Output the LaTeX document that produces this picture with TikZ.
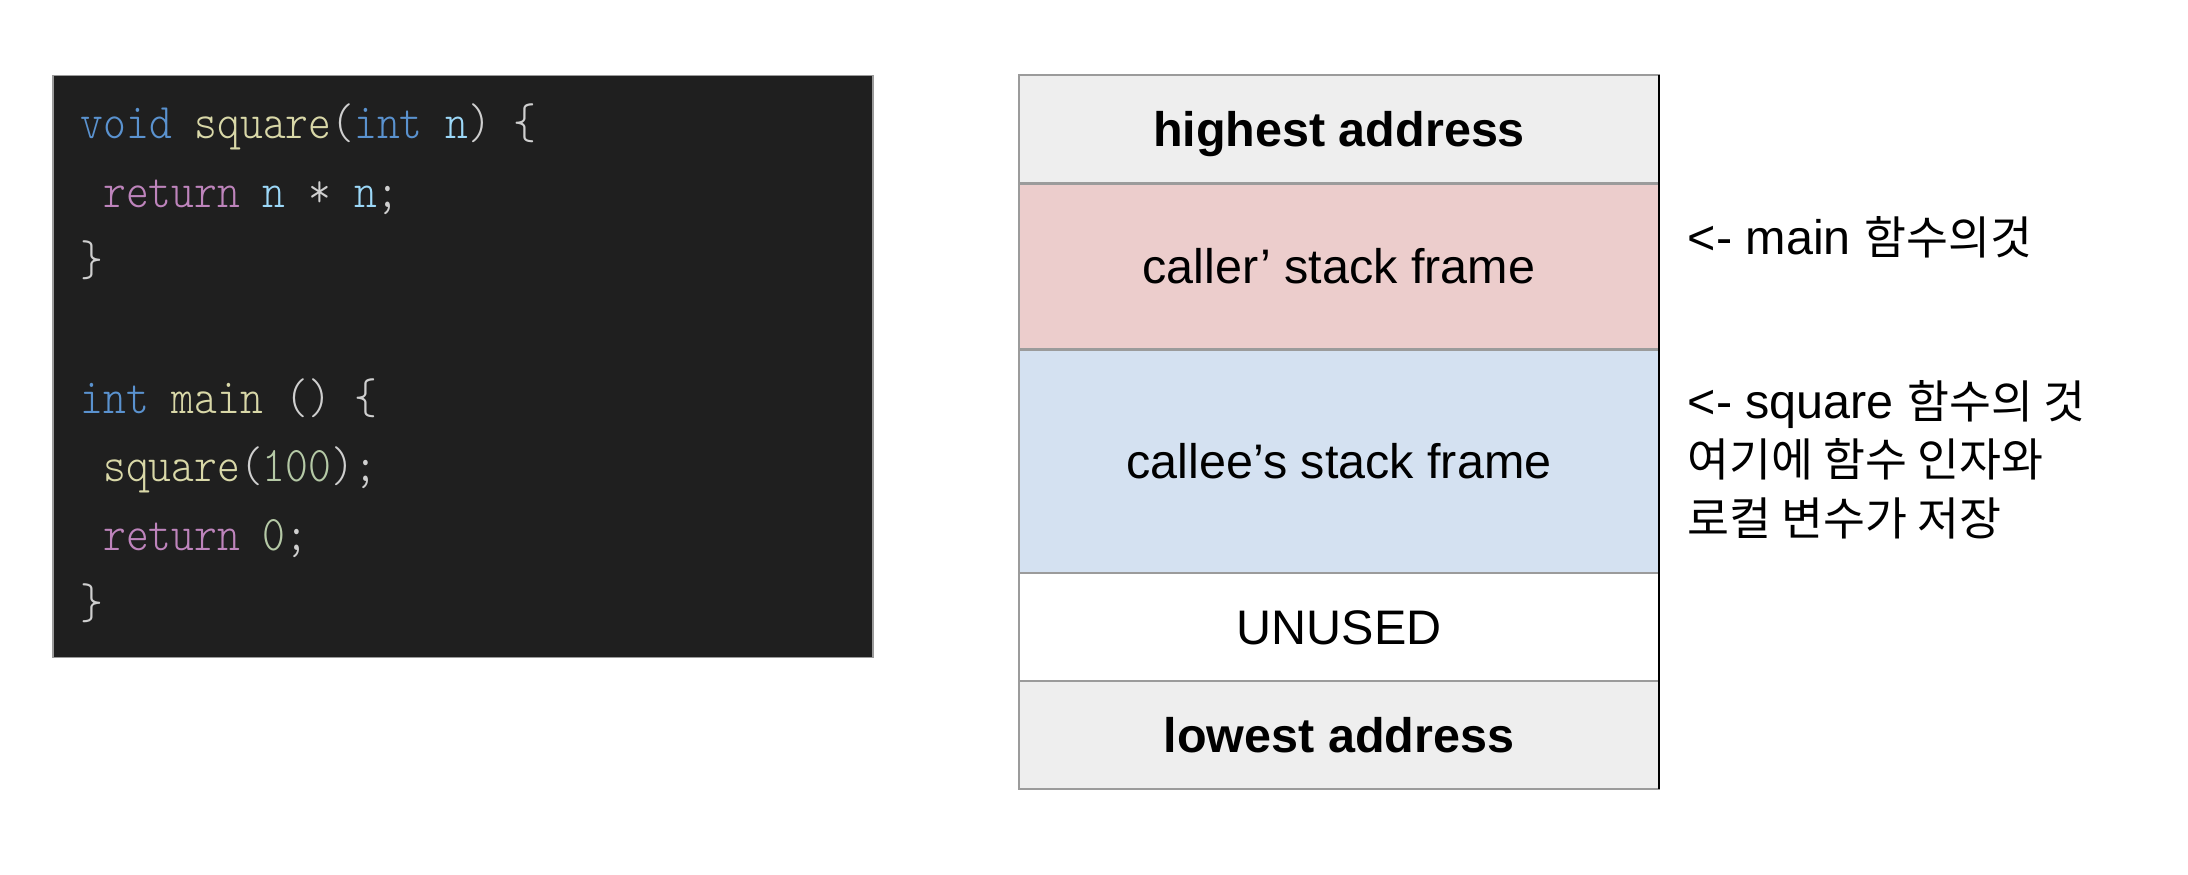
\documentclass[tikz,border=0pt]{standalone}
\usepackage{fontspec}
\usepackage{xcolor}
\usetikzlibrary{positioning}
\setmainfont{Liberation Sans}
\newfontfamily\kr[Scale=0.94]{Noto Sans CJK KR}
\newfontfamily\codett[FakeStretch=0.87]{lmmonolt10-regular.otf}

\definecolor{codebg}{HTML}{1F1F1F}
\definecolor{kwblue}{HTML}{5A92CF}
\definecolor{fnyellow}{HTML}{D9D8A8}
\definecolor{varblue}{HTML}{9CD8F8}
\definecolor{retpurple}{HTML}{BE84BC}
\definecolor{numgreen}{HTML}{B5C9A6}
\definecolor{punct}{HTML}{CFCFCF}
\definecolor{cellgray}{HTML}{EEEEEE}
\definecolor{callerpink}{HTML}{ECCDCC}
\definecolor{calleeblue}{HTML}{D4E1F1}
\definecolor{edgegray}{HTML}{9B9B9B}

\newcommand{\ckw}[1]{\textcolor{kwblue}{#1}}
\newcommand{\cfn}[1]{\textcolor{fnyellow}{#1}}
\newcommand{\cvar}[1]{\textcolor{varblue}{#1}}
\newcommand{\cret}[1]{\textcolor{retpurple}{#1}}
\newcommand{\cnum}[1]{\textcolor{numgreen}{#1}}
\newcommand{\cpn}[1]{\textcolor{punct}{#1}}

\tikzset{
    codeline/.style={anchor=base west, inner sep=0pt, font=\codett\fontsize{14.2pt}{17pt}\selectfont},
    cell/.style={draw=edgegray, line width=0.6pt, minimum width=6.4cm, outer sep=0pt,
        text height=12pt, text depth=2.2pt, font=\fontsize{13.8pt}{16.6pt}\selectfont},
    note/.style={anchor=base west, inner sep=0pt, font=\fontsize{13.8pt}{16.6pt}\selectfont}
}

\begin{document}
\begin{tikzpicture}
        \useasboundingbox (0, 0) rectangle (21.88, 8.74);

        % Code panel
        \node[fill=codebg, draw=edgegray, line width=0.4pt, minimum width=8.2cm, minimum height=5.82cm] (codebox) at (4.63, 5.075) {};
        \node[codeline] (code1) at (0.80, 7.35) {\ckw{void} \cfn{square}\cpn{(}\ckw{int} \cvar{n}\cpn{) \{}};
        \node[codeline] (code2) at (1.027, 6.665) {\cret{return} \cvar{n} \cpn{*} \cvar{n}\cpn{;}};
        \node[codeline] (code3) at (0.80, 5.98) {\cpn{\}}};
        \node[codeline] (code4) at (0.80, 4.61) {\ckw{int} \cfn{main} \cpn{() \{}};
        \node[codeline] (code5) at (1.027, 3.925) {\cfn{square}\cpn{(}\cnum{100}\cpn{);}};
        \node[codeline] (code6) at (1.027, 3.24) {\cret{return} \cnum{0}\cpn{;}};
        \node[codeline] (code7) at (0.80, 2.555) {\cpn{\}}};

        % Stack
        \node[cell, fill=cellgray, minimum height=1.085cm] (high) at (13.39, 7.4475) {\textbf{highest address}};
        \node[cell, fill=callerpink, minimum height=1.66cm, below=0pt of high] (caller) {caller’ stack frame};
        \node[cell, fill=calleeblue, minimum height=2.235cm, below=0pt of caller] (callee) {callee’s stack frame};
        \node[cell, fill=white, minimum height=1.08cm, below=0pt of callee] (unused) {UNUSED};
        \node[cell, fill=cellgray, minimum height=1.08cm, below=0pt of unused] (low) {\textbf{lowest address}};
        \draw[black, line width=0.7pt] (high.north east) -- (low.south east);

        % Notes
        \node[note] (note1) at (16.87, 6.19) {<- main {\kr 함수의것}};
        \node[note] (note2) at (16.87, 4.56) {<- square {\kr 함수의 것}};
        \node[note] (note3) at (16.87, 3.975) {\kr 여기에 함수 인자와};
        \node[note] (note4) at (16.87, 3.385) {\kr 로컬 변수가 저장};
    \end{tikzpicture}
\end{document}
